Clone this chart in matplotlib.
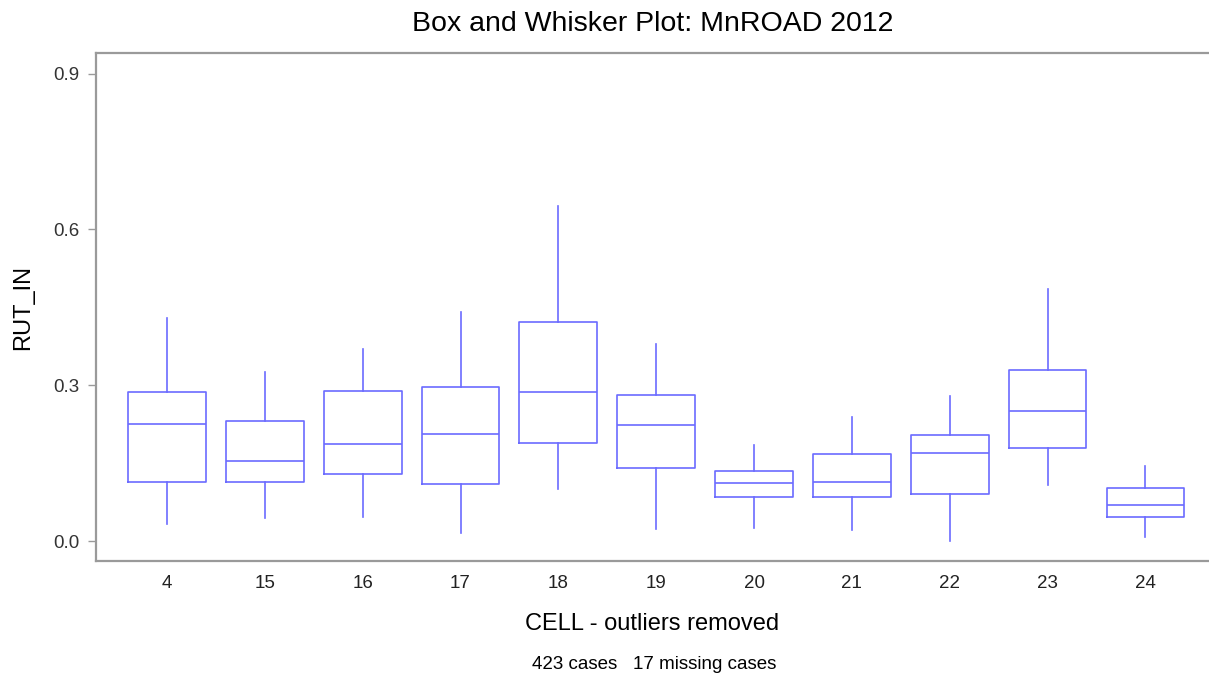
import matplotlib
matplotlib.use("Agg")
import matplotlib.pyplot as plt

plt.rcParams['font.family'] = ['Liberation Sans', 'DejaVu Sans']

# five-number summaries of RUT_IN per cell (outliers removed)
cells = ['4', '15', '16', '17', '18', '19', '20', '21', '22', '23', '24']
whislo = [0.032, 0.044, 0.047, 0.015, 0.101, 0.024, 0.025, 0.021, 0.001, 0.107, 0.008]
q1 = [0.114, 0.114, 0.129, 0.109, 0.189, 0.141, 0.084, 0.085, 0.090, 0.179, 0.047]
med = [0.226, 0.155, 0.187, 0.206, 0.286, 0.223, 0.112, 0.113, 0.169, 0.250, 0.069]
q3 = [0.286, 0.231, 0.288, 0.297, 0.422, 0.282, 0.134, 0.168, 0.205, 0.329, 0.103]
whishi = [0.430, 0.325, 0.370, 0.440, 0.645, 0.379, 0.184, 0.238, 0.280, 0.485, 0.145]

stats = []
for i in range(len(cells)):
    stats.append({'label': cells[i], 'whislo': whislo[i], 'q1': q1[i], 'med': med[i],
                  'q3': q3[i], 'whishi': whishi[i], 'fliers': []})

blue = '#6b6bff'
grey = '#9a9a9a'

fig = plt.figure(figsize=(12.09, 6.77), dpi=100)
ax = fig.add_axes([0.0794, 0.1713, 0.9206, 0.75])

ax.bxp(stats, positions=range(len(cells)), widths=0.795, showcaps=False, showfliers=False,
       boxprops=dict(color=blue, linewidth=1.2),
       medianprops=dict(color=blue, linewidth=1.2),
       whiskerprops=dict(color=blue, linewidth=1.2))

ax.set_xlim(-0.726, 10.65)
ax.set_ylim(-0.0385, 0.939)
ax.set_yticks([0.0, 0.3, 0.6, 0.9])
ax.set_yticklabels(['0.0', '0.3', '0.6', '0.9'])

for side in ['left', 'bottom', 'top']:
    ax.spines[side].set_color(grey)
    ax.spines[side].set_linewidth(1.6)
ax.spines['right'].set_visible(False)

ax.tick_params(axis='y', length=6, width=1, color=grey, labelsize=13.5, labelcolor='#333333', pad=6)
ax.tick_params(axis='x', length=0, labelsize=13.5, labelcolor='#222222', pad=10)

ax.set_title('Box and Whisker Plot: MnROAD 2012', fontsize=20.5, pad=16)
ax.set_xlabel('CELL - outliers removed', fontsize=17, labelpad=15)
ax.set_ylabel('RUT_IN', fontsize=17, labelpad=14)
fig.text(0.541, 0.012, '423 cases   17 missing cases', ha='center', fontsize=13.5)

fig.savefig('out.png', dpi=100)
